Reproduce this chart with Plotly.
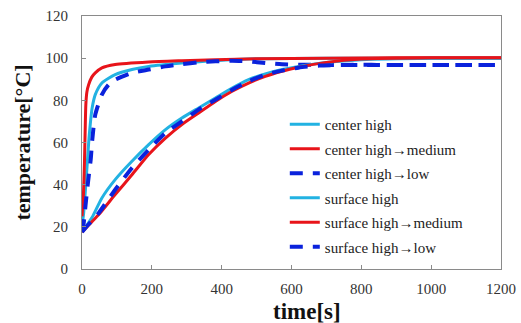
import plotly.graph_objects as go

# ---- data ----
center_high_t = [0, 5, 10, 15, 20, 25, 29, 38, 57, 95, 143, 191, 286, 382, 477, 600, 800, 1000, 1200]
center_high_T = [20, 27, 38, 50, 62, 71, 76.4, 82.7, 88.2, 92.2, 94.6, 96.1, 97.7, 98.8, 99.6, 99.9, 100, 100, 100]

center_med_t = [0, 4, 7, 9, 11, 14, 19, 28, 38, 57, 95, 191, 286, 382, 500, 700, 900, 1200]
center_med_T = [25, 35, 50, 65, 78, 84, 87.4, 91, 93, 95.4, 97, 98.2, 98.8, 99.3, 99.7, 100, 100.2, 100.2]

center_low_t = [0, 5, 10, 15, 20, 25, 29, 38, 57, 76, 95, 143, 191, 239, 286, 334, 382, 430, 477, 525, 573, 620, 700, 850, 1000, 1200]
center_low_T = [17.5, 22, 30, 38, 45, 52, 60.6, 73.2, 82.7, 87.4, 89.8, 93, 94.6, 96.1, 97.2, 98, 98.5, 98.8, 98.5, 97.7, 97.1, 96.9, 96.8, 96.8, 96.8, 96.8]

surface_high_t = [0, 15, 29, 57, 95, 143, 191, 239, 286, 334, 382, 430, 477, 525, 573, 620, 700, 800, 1000, 1200]
surface_high_T = [17.5, 21, 24.5, 33.7, 42.4, 51.1, 59, 66.1, 71.6, 76.4, 81.1, 85.8, 89.8, 92.5, 94.6, 96.1, 98, 99.3, 100, 100]

surface_med_t = [0, 15, 29, 48, 95, 143, 191, 239, 286, 334, 382, 430, 477, 525, 573, 620, 700, 800, 1000, 1200]
surface_med_T = [17.5, 20, 22.5, 25.8, 35.3, 44.7, 54.3, 62.1, 68.5, 74, 79.5, 84.3, 88.2, 91.4, 93.8, 95.7, 98, 99.6, 100.2, 100.2]

surface_low_t = [0, 15, 29, 48, 95, 143, 191, 239, 286, 334, 382, 430, 477, 525, 573, 620, 680, 750, 900, 1200]
surface_low_T = [17.5, 20.5, 23, 26.6, 37.6, 47.9, 56.6, 64.5, 70, 75.6, 80.3, 85, 89, 92.2, 94.1, 95.5, 96.5, 96.8, 96.8, 96.8]

names = ["center high", "center high→medium", "center high→low",
         "surface high", "surface high→medium", "surface high→low"]

x_ticks = [0, 200, 400, 600, 800, 1000, 1200]
y_ticks = [0, 20, 40, 60, 80, 100, 120]

CYAN = "#22B2E2"
RED = "#E8141A"
BLUE = "#0A22DC"

series = [
    (center_high_t, center_high_T, CYAN, "solid", 3),
    (center_med_t, center_med_T, RED, "solid", 3),
    (center_low_t, center_low_T, BLUE, "13px,10px", 4),
    (surface_high_t, surface_high_T, CYAN, "solid", 3),
    (surface_med_t, surface_med_T, RED, "solid", 3),
    (surface_low_t, surface_low_T, BLUE, "13px,10px", 4),
]

fig = go.Figure()
for i, ((t, T, col, dash, w), nm) in enumerate(zip(series, names)):
    fig.add_trace(go.Scatter(
        x=t, y=T, mode="lines", name=nm, legendgroup=f"g{i}",
        line=dict(color=col, width=w, dash=dash, shape="spline", smoothing=0.6),
    ))

serif = "Liberation Serif, Times New Roman, serif"
fig.update_layout(
    width=521, height=323,
    margin=dict(l=82, r=20, t=16, b=54, autoexpand=False),
    paper_bgcolor="white", plot_bgcolor="white",
    font=dict(family=serif, color="#222"),
    showlegend=True,
    legend=dict(
        x=0.484, y=0.636, xanchor="left", yanchor="top",
        bgcolor="rgba(255,255,255,0)",
        font=dict(family=serif, size=15, color="#222"),
        tracegroupgap=2, traceorder="grouped",
    ),
    xaxis=dict(
        range=[0, 1200], tickvals=x_ticks, automargin=False,
        showline=True, linecolor="#8a8a8a", linewidth=1, mirror=True,
        ticks="inside", ticklen=4, tickcolor="#8a8a8a",
        showgrid=False, zeroline=False,
        tickfont=dict(family=serif, size=15, color="#333"),
        ticklabelstandoff=6,
    ),
    yaxis=dict(
        range=[0, 120], tickvals=y_ticks, automargin=False,
        showline=True, linecolor="#8a8a8a", linewidth=1, mirror=True,
        ticks="inside", ticklen=4, tickcolor="#8a8a8a",
        showgrid=False, zeroline=False,
        tickfont=dict(family=serif, size=15, color="#333"),
        ticklabelstandoff=10,
        title=dict(text="<b>temperature[°C]</b>", font=dict(family=serif, size=22, color="#111"), standoff=8),
    ),
    annotations=[dict(
        text="<b>time[s]</b>", xref="paper", yref="paper",
        x=0.536, y=-0.168, xanchor="center", yanchor="middle", showarrow=False,
        font=dict(family=serif, size=23, color="#111"),
    )],
)

fig.write_html("out.html")
